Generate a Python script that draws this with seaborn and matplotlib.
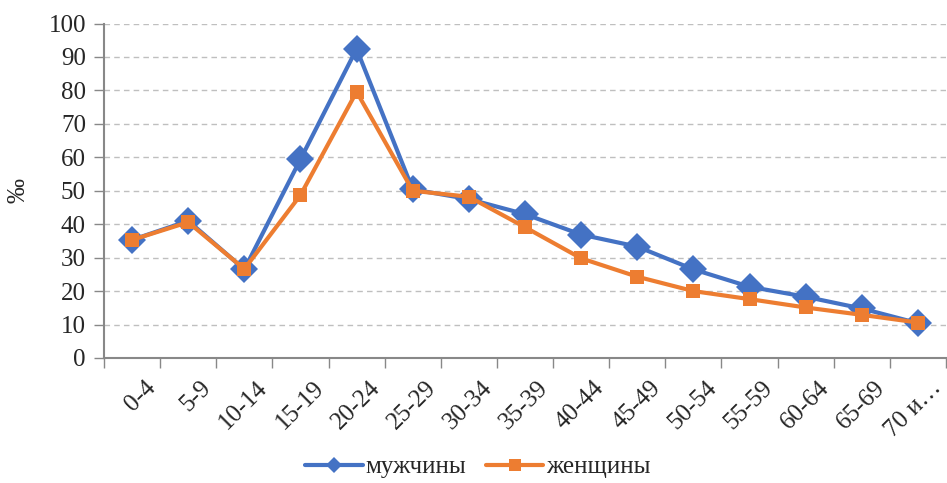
import matplotlib
matplotlib.use("Agg")
import matplotlib.pyplot as plt
import matplotlib.transforms as mtransforms
import seaborn as sns
import pandas as pd
import numpy as np

age_groups = ["0-4", "5-9", "10-14", "15-19", "20-24", "25-29", "30-34", "35-39",
              "40-44", "45-49", "50-54", "55-59", "60-64", "65-69", "70 и…"]
men = [35.3, 41.0, 26.5, 59.4, 92.4, 50.4, 47.5, 43.0, 36.9, 33.3, 26.5, 21.3, 18.3, 14.8, 10.4]
women = [35.3, 40.6, 26.6, 48.7, 79.6, 50.0, 48.2, 39.1, 29.8, 24.3, 20.0, 17.6, 15.1, 12.9, 10.6]
series_names = ["мужчины", "женщины"]
y_ticks = list(range(0, 101, 10))

sns.set_theme(style="white")
plt.rcParams["font.family"] = ["Liberation Serif", "DejaVu Serif"]
FS = 18

fig = plt.figure(figsize=(9.47, 4.83), dpi=100)
ax = fig.add_axes([104 / 947, (483 - 358) / 483, (946 - 104) / 947, (358 - 23.5) / 483])

x = np.arange(len(age_groups))
df_m = pd.DataFrame({"x": x, "y": men})
df_w = pd.DataFrame({"x": x, "y": women})

blue = "#4472C4"
orange = "#ED7D31"
sns.lineplot(data=df_m, x="x", y="y", ax=ax, color=blue, linewidth=3,
             marker="D", markersize=14, markeredgewidth=0, label=series_names[0])
sns.lineplot(data=df_w, x="x", y="y", ax=ax, color=orange, linewidth=3,
             marker="s", markersize=9.5, markeredgewidth=0, label=series_names[1])

ax.set_xlim(-0.5, len(age_groups) - 0.5)
ax.set_ylim(0, 100)
ax.set_yticks(y_ticks)
ax.set_yticklabels([str(v) for v in y_ticks], fontsize=FS)
ax.set_xticks(x)
ax.set_xticks(np.arange(-0.5, len(age_groups), 1.0), minor=True)
ax.tick_params(axis="x", which="major", length=0, pad=9)
ax.tick_params(axis="x", which="minor", length=7, width=1, color="#888888", direction="out", bottom=True)
ax.tick_params(axis="y", length=7, width=1, color="#888888", direction="out", left=True, pad=6)
ax.set_xticklabels(age_groups, fontsize=FS, rotation=45, ha="right",
                   rotation_mode="anchor")
# nudge rotated category labels so their ends sit under the tick centres
shift = mtransforms.ScaledTranslation(12 / 100, -6 / 100, fig.dpi_scale_trans)
for tick in ax.xaxis.get_major_ticks():
    tick.label1.set_transform(tick.label1.get_transform() + shift)

ax.grid(axis="y", color="#BFBFBF", linestyle=(0, (4, 3)), linewidth=1)
ax.set_axisbelow(True)
for side in ["top", "right"]:
    ax.spines[side].set_visible(False)
for side in ["left", "bottom"]:
    ax.spines[side].set_color("#888888")
    ax.spines[side].set_linewidth(1.5)

ax.set_xlabel("")
ax.set_ylabel("‰", fontsize=FS, labelpad=14)

leg = ax.legend(loc="center", bbox_to_anchor=(0.444, -0.326), ncol=2, frameon=False,
                fontsize=FS, handlelength=2.3, handletextpad=0.1, columnspacing=0.8)
for h, ms in zip(leg.legend_handles, [8, 8.5]):
    h.set_markersize(ms)

fig.savefig("out.png", dpi=100)
